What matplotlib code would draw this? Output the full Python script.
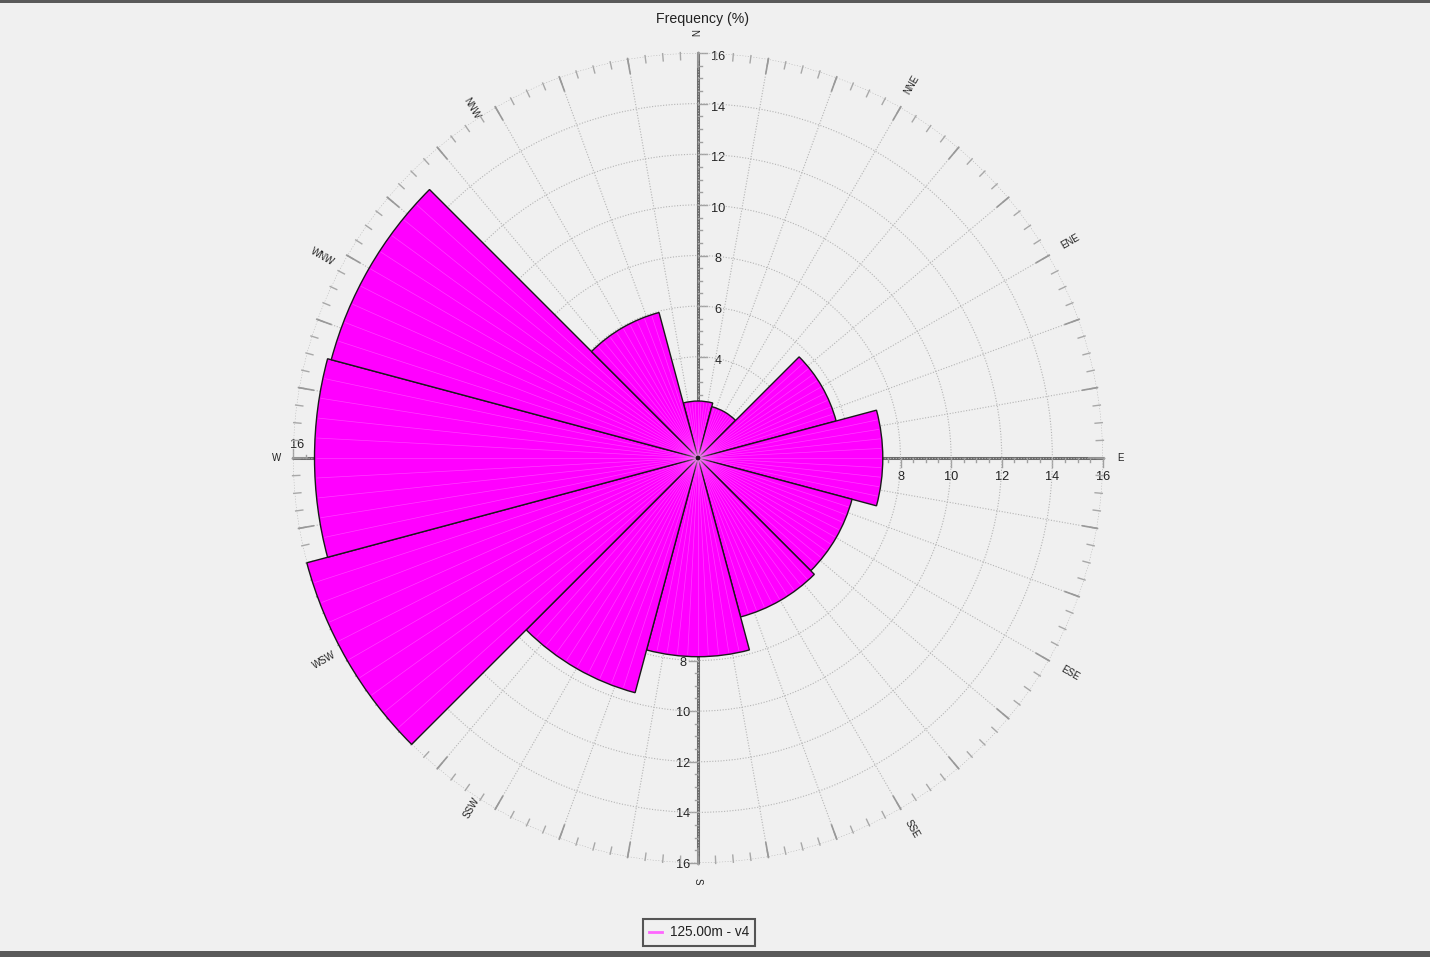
import numpy as np
import matplotlib.pyplot as plt
from matplotlib.patches import Rectangle

plt.rcParams["font.family"] = ["Liberation Sans", "DejaVu Sans"]

BG = "#f0f0f0"
MAGENTA = "#ff00ff"
AXIS_GREY = "#6a6a6a"

# frequency per 30 degree sector, clockwise from north
directions = [0, 30, 60, 90, 120, 150, 180, 210, 240, 270, 300, 330]
frequency = [2.25, 2.1, 5.65, 7.3, 6.3, 6.5, 7.85, 9.6, 16.0, 15.15, 15.0, 5.95]

compass_labels = ["N", "NNE", "ENE", "E", "ESE", "SSE", "S", "SSW", "WSW", "W", "WNW", "NNW"]
radial_ticks = [2, 4, 6, 8, 10, 12, 14, 16]
labelled_ticks = [4, 6, 8, 10, 12, 14, 16]
legend_label = "125.00m - v4"
title = "Frequency (%)"

CX, CY, R = 698, 458, 405
W, H = 1430, 957
SCALE = R / 16

# pixel anchors of the compass names, same order as compass_labels
compass_x = [697, 912, 1070, 1120, 1070, 912, 698, 472, 324, 277, 322, 472]
compass_y = [33, 85, 241, 458, 673, 829, 881, 808, 660, 458, 257, 108]

fig = plt.figure(figsize=(W / 100, H / 100), dpi=100, facecolor=BG)

# pixel space layer under the polar axes, for the four scale arms
under = fig.add_axes([0, 0, 1, 1], zorder=0)
under.set_xlim(0, W)
under.set_ylim(H, 0)
under.axis("off")

# direction of arm, side of its ticks, offset of its numbers
arms = [(0, -1, 1, 0, 20, 4), (1, 0, 0, 1, 0, 19), (0, 1, -1, 0, -15, 2), (-1, 0, 0, -1, 4, -13)]
for dx, dy, tx, ty, ox, oy in arms:
    end = R + 1
    under.plot([CX, CX + dx * end], [CY, CY + dy * end], color=AXIS_GREY, lw=2.2, solid_capstyle="butt")
    for v in np.arange(0.5, 16.01, 0.5):
        px = CX + dx * v * SCALE
        py = CY + dy * v * SCALE
        length = 9 if v % 2 == 0 else 3.5
        under.plot([px, px + tx * length], [py, py + ty * length], color="#a0a0a0", lw=1)
    for v in labelled_ticks:
        under.text(CX + dx * v * SCALE + ox, CY + dy * v * SCALE + oy, str(v),
                   ha="center", va="center", fontsize=9.2, color="#222222")

for lab, x, y, t in zip(compass_labels, compass_x, compass_y, directions):
    rot = 90 - t if t <= 180 else 270 - t
    under.text(x, y, lab, rotation=rot, rotation_mode="anchor", ha="center", va="center",
               fontsize=7, color="#222222")

ax = fig.add_axes([(CX - R) / W, (H - CY - R) / H, 2 * R / W, 2 * R / H],
                  projection="polar", zorder=1)
ax.patch.set_alpha(0)
ax.set_theta_zero_location("N")
ax.set_theta_direction(-1)
ax.set_rlim(0, 16)
ax.spines["polar"].set_visible(False)
ax.set_rticks(radial_ticks)
ax.set_thetagrids(np.arange(0, 360, 10), labels=[])
ax.set_yticklabels([])
ax.tick_params(length=0)
ax.grid(True, color="#b4b4b4", ls=(0, (1, 1.5)), lw=0.8)
ax.set_axisbelow(True)

theta = np.radians(directions)
width = np.radians(30)

# rim ticks
ax.vlines(np.radians(np.arange(0, 360, 2.5)), 15.72, 16.06, color="#a8a8a8", lw=1, clip_on=False, zorder=1)
ax.vlines(np.radians(np.arange(0, 360, 10)), 15.4, 16.04, color="#999999", lw=1.2, clip_on=False, zorder=1)

ax.bar(theta, frequency, width=width, color=MAGENTA, edgecolor="#1a1a1a",
       linewidth=1, zorder=3, clip_on=False)

# lighter slices inside every sector
for t, f in zip(directions, frequency):
    slices = np.radians(t + np.arange(-12, 12.1, 3))
    ax.vlines(slices, 0.1, f - 0.06, color="#ff99ff", lw=0.5, alpha=0.4, zorder=4)

fig.text(702.5 / W, 1 - 18.5 / H, title, ha="center", va="center", fontsize=10.2, color="#222222")

handle, = ax.plot([], [], color="#ff66ff", lw=2, label=legend_label)
leg = fig.legend(handles=[handle], loc="center", bbox_to_anchor=(699 / W, 1 - 932.5 / H),
                 frameon=True, fontsize=9.8, handlelength=0.95, handletextpad=0.6,
                 borderpad=0.45, borderaxespad=0, facecolor=BG, labelcolor="#222222", framealpha=1,
                 fancybox=False)
leg.get_frame().set_edgecolor("#555555")
leg.get_frame().set_linewidth(1.5)

# window edges of the screenshot
fig.add_artist(Rectangle((0, 1 - 3 / H), 1, 3 / H, transform=fig.transFigure, color="#5a5a5a", lw=0))
fig.add_artist(Rectangle((0, 0), 1, 6 / H, transform=fig.transFigure, color="#5a5a5a", lw=0))

fig.savefig("out.png", dpi=100, facecolor=BG)
